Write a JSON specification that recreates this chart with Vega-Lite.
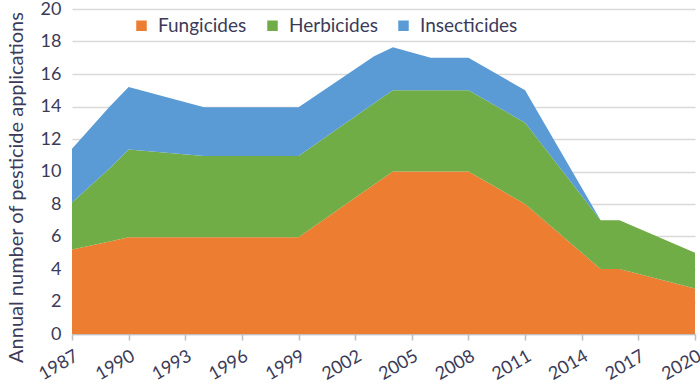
{
  "$schema": "https://vega.github.io/schema/vega-lite/v6.json",
  "width": 623,
  "height": 325,
  "autosize": {"type": "none"},
  "padding": {"left": 72, "top": 9, "right": 5, "bottom": 50},
  "background": "white",
  "config": {
    "view": {"stroke": null},
    "font": "Lato",
    "axis": {"labelFont": "Lato", "titleFont": "Lato", "labelColor": "#3b3b58", "titleColor": "#3b3b58", "labelFontSize": 18, "titleFontSize": 20, "titleFontWeight": "normal", "labelFontWeight": "normal"},
    "legend": {"labelFont": "Lato", "labelColor": "#3b3b58", "labelFontSize": 19, "labelFontWeight": "normal"}
  },
  "data": {
    "values": [
      {"year": 1987, "type": "Fungicides", "value": 5.2},
      {"year": 1989, "type": "Fungicides", "value": 5.7},
      {"year": 1990, "type": "Fungicides", "value": 5.95},
      {"year": 1994, "type": "Fungicides", "value": 5.95},
      {"year": 1999, "type": "Fungicides", "value": 5.95},
      {"year": 2003, "type": "Fungicides", "value": 9.2},
      {"year": 2004, "type": "Fungicides", "value": 10},
      {"year": 2006, "type": "Fungicides", "value": 10},
      {"year": 2008, "type": "Fungicides", "value": 10},
      {"year": 2011, "type": "Fungicides", "value": 8},
      {"year": 2015, "type": "Fungicides", "value": 4},
      {"year": 2016, "type": "Fungicides", "value": 4},
      {"year": 2020, "type": "Fungicides", "value": 2.8},
      {"year": 1987, "type": "Herbicides", "value": 2.9},
      {"year": 1989, "type": "Herbicides", "value": 4.5},
      {"year": 1990, "type": "Herbicides", "value": 5.4},
      {"year": 1994, "type": "Herbicides", "value": 5},
      {"year": 1999, "type": "Herbicides", "value": 5},
      {"year": 2003, "type": "Herbicides", "value": 5},
      {"year": 2004, "type": "Herbicides", "value": 5},
      {"year": 2006, "type": "Herbicides", "value": 5},
      {"year": 2008, "type": "Herbicides", "value": 5},
      {"year": 2011, "type": "Herbicides", "value": 5},
      {"year": 2015, "type": "Herbicides", "value": 3},
      {"year": 2016, "type": "Herbicides", "value": 3},
      {"year": 2020, "type": "Herbicides", "value": 2.2},
      {"year": 1987, "type": "Insecticides", "value": 3.3},
      {"year": 1989, "type": "Insecticides", "value": 3.8},
      {"year": 1990, "type": "Insecticides", "value": 3.85},
      {"year": 1994, "type": "Insecticides", "value": 3},
      {"year": 1999, "type": "Insecticides", "value": 3},
      {"year": 2003, "type": "Insecticides", "value": 2.9},
      {"year": 2004, "type": "Insecticides", "value": 2.65},
      {"year": 2006, "type": "Insecticides", "value": 2},
      {"year": 2008, "type": "Insecticides", "value": 2},
      {"year": 2011, "type": "Insecticides", "value": 2},
      {"year": 2015, "type": "Insecticides", "value": 0},
      {"year": 2016, "type": "Insecticides", "value": 0},
      {"year": 2020, "type": "Insecticides", "value": 0}
    ]
  },
  "mark": {"type": "area", "interpolate": "linear"},
  "encoding": {
    "x": {
      "field": "year", "type": "quantitative",
      "scale": {"domain": [1987, 2020], "nice": false, "zero": false},
      "axis": {
        "values": [1987, 1990, 1993, 1996, 1999, 2002, 2005, 2008, 2011, 2014, 2017, 2020],
        "format": "d", "title": null, "grid": false,
        "labelAngle": -30, "labelAlign": "right", "labelBaseline": "top",
        "labelPadding": 7, "labelFontSize": 18,
        "domainColor": "#bfbfbf", "domainWidth": 1.5,
        "tickColor": "#bfbfbf", "tickSize": 6, "tickWidth": 1.5
      }
    },
    "y": {
      "field": "value", "type": "quantitative", "stack": "zero",
      "scale": {"domain": [0, 20], "nice": false},
      "axis": {
        "values": [0, 2, 4, 6, 8, 10, 12, 14, 16, 18, 20],
        "title": "Annual number of pesticide applications",
        "domain": false, "ticks": false, "labelPadding": 11,
        "gridColor": "#d9d9d9", "gridWidth": 1.5, "titlePadding": 14,
        "titleY": 178, "titleAnchor": "middle"
      }
    },
    "color": {
      "field": "type", "type": "nominal",
      "scale": {"domain": ["Fungicides", "Herbicides", "Insecticides"], "range": ["#ED7D31", "#70AD47", "#5B9BD5"]},
      "legend": {
        "title": null, "orient": "none", "direction": "horizontal",
        "legendX": 60, "legendY": 7,
        "symbolType": "square", "symbolSize": 110, "symbolStrokeWidth": 0,
        "labelOffset": 7, "columnPadding": 16
      }
    },
    "order": {"field": "type", "sort": "ascending"}
  }
}
